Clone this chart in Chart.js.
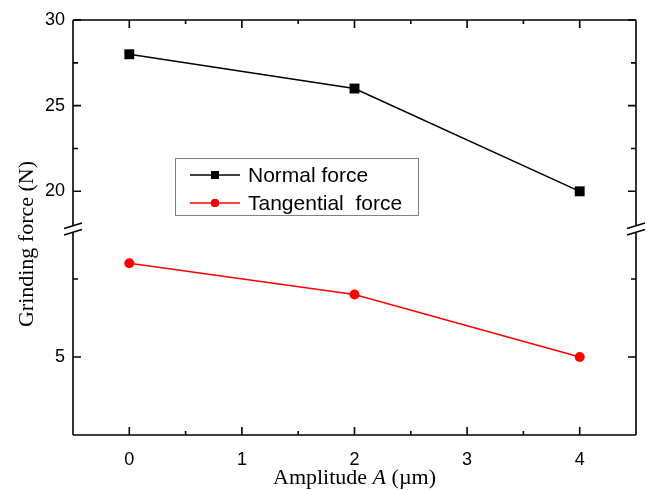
<!DOCTYPE html>
<html>
<head>
<meta charset="utf-8">
<script src="https://cdn.jsdelivr.net/npm/chart.js@4.4.1/dist/chart.umd.min.js"></script>
<style>
  html, body { margin: 0; padding: 0; background: #fff; }
</style>
</head>
<body>
<canvas id="chart" width="647" height="490"></canvas>
<script>
const amplitudes = [0, 2, 4];
const normalForce = [28, 26, 20];
const tangentialForce = [8, 7, 5];
const xTicks = [0, 1, 2, 3, 4];
const xMinorTicks = [0.5, 1.5, 2.5, 3.5];
const upperTicks = [20, 25, 30];
const upperMinorTicks = [22.5, 27.5];
const lowerTicks = [5];
const lowerMinorTicks = [7.5];
const seriesLabels = ['Normal force', 'Tangential  force'];

const SANS = '"Liberation Sans", Arial, sans-serif';
const SERIF = '"Liberation Serif", "Times New Roman", serif';

function yScale(min, max, ticks, weight) {
  return {
    type: 'linear',
    position: 'left',
    stack: 'force',
    stackWeight: weight,
    min: min,
    max: max,
    afterBuildTicks: s => { s.ticks = ticks.map(v => ({ value: v })); },
    afterFit: s => { s.width = 73; },
    grid: { display: false, drawTicks: false },
    border: { display: false },
    ticks: { color: '#000', font: { family: SANS, size: 18 }, padding: 8 }
  };
}

// frame, inward ticks and axis break marks
const framePlugin = {
  id: 'frame',
  afterDraw(chart) {
    const { ctx, chartArea: a, scales } = chart;
    const xs = scales.x, yu = scales.yUpper, yl = scales.yLower;
    const breakY = yu.bottom;
    const gap = 3.2;
    ctx.save();
    ctx.strokeStyle = '#000';
    ctx.lineWidth = 1.6;
    ctx.beginPath();
    ctx.moveTo(a.left, a.top); ctx.lineTo(a.right, a.top);
    ctx.moveTo(a.left, a.bottom); ctx.lineTo(a.right, a.bottom);
    [a.left, a.right].forEach(px => {
      ctx.moveTo(px, a.top); ctx.lineTo(px, breakY - gap);
      ctx.moveTo(px, breakY + gap); ctx.lineTo(px, a.bottom);
    });
    ctx.stroke();

    ctx.beginPath();
    [a.left, a.right].forEach(px => {
      [-gap, gap].forEach(d => {
        ctx.moveTo(px - 9, breakY + d + 2.8);
        ctx.lineTo(px + 9, breakY + d - 2.8);
      });
    });
    ctx.stroke();

    ctx.beginPath();
    const xTick = (v, len) => {
      const p = xs.getPixelForValue(v);
      ctx.moveTo(p, a.bottom); ctx.lineTo(p, a.bottom - len);
      ctx.moveTo(p, a.top); ctx.lineTo(p, a.top + len);
    };
    xTicks.forEach(v => xTick(v, 8));
    xMinorTicks.forEach(v => xTick(v, 4));
    const yTick = (s, v, len) => {
      const p = s.getPixelForValue(v);
      ctx.moveTo(a.left, p); ctx.lineTo(a.left + len, p);
      ctx.moveTo(a.right, p); ctx.lineTo(a.right - len, p);
    };
    upperTicks.forEach(v => yTick(yu, v, 8));
    upperMinorTicks.forEach(v => yTick(yu, v, 5));
    lowerTicks.forEach(v => yTick(yl, v, 8));
    lowerMinorTicks.forEach(v => yTick(yl, v, 5));
    ctx.stroke();

    // axis titles
    ctx.fillStyle = '#000';
    ctx.textBaseline = 'middle';
    const pieces = [
      { t: 'Amplitude ', f: '22px ' + SERIF },
      { t: 'A', f: 'italic 22px ' + SERIF },
      { t: ' (\u00b5m)', f: '22px ' + SERIF }
    ];
    let total = 0;
    pieces.forEach(p => { ctx.font = p.f; p.w = ctx.measureText(p.t).width; total += p.w; });
    let tx = (a.left + a.right) / 2 - total / 2;
    ctx.textAlign = 'left';
    pieces.forEach(p => { ctx.font = p.f; ctx.fillText(p.t, tx, 478); tx += p.w; });

    ctx.translate(27, 244);
    ctx.rotate(-Math.PI / 2);
    ctx.textAlign = 'center';
    ctx.font = '22px ' + SERIF;
    ctx.fillText('Grinding force (N)', 0, 0);
    ctx.restore();
  }
};

const legendPlugin = {
  id: 'boxLegend',
  afterDraw(chart) {
    const { ctx } = chart;
    ctx.save();
    ctx.strokeStyle = '#808080';
    ctx.lineWidth = 1;
    ctx.strokeRect(175.5, 158.5, 243, 57);
    const rows = [175, 203];
    chart.data.datasets.forEach((ds, i) => {
      const y = rows[i];
      ctx.strokeStyle = ds.borderColor;
      ctx.lineWidth = 1.5;
      ctx.beginPath();
      ctx.moveTo(190, y); ctx.lineTo(240, y);
      ctx.stroke();
      Chart.helpers.drawPoint(ctx, { pointStyle: ds.pointStyle, radius: ds.pointRadius * 0.8, borderWidth: 0 }, 215, y);
      ctx.fillStyle = ds.backgroundColor;
      ctx.fill();
      ctx.fillStyle = '#000';
      ctx.font = '21px ' + SANS;
      ctx.textAlign = 'left';
      ctx.textBaseline = 'middle';
      ctx.fillText(ds.label, 248, y + 1);
    });
    ctx.restore();
  }
};

new Chart(document.getElementById('chart'), {
  type: 'line',
  data: {
    datasets: [
      {
        label: seriesLabels[0],
        data: amplitudes.map((a, i) => ({ x: a, y: normalForce[i] })),
        yAxisID: 'yUpper',
        borderColor: '#000000',
        backgroundColor: '#000000',
        borderWidth: 1.5,
        pointStyle: 'rect',
        pointRadius: 7,
        pointBorderWidth: 0
      },
      {
        label: seriesLabels[1],
        data: amplitudes.map((a, i) => ({ x: a, y: tangentialForce[i] })),
        yAxisID: 'yLower',
        borderColor: '#ff0000',
        backgroundColor: '#ff0000',
        borderWidth: 1.5,
        pointStyle: 'circle',
        pointRadius: 5,
        pointBorderWidth: 0
      }
    ]
  },
  options: {
    responsive: false,
    animation: false,
    layout: { padding: { top: 20, right: 11, left: 0, bottom: 0 } },
    plugins: { legend: { display: false }, tooltip: { enabled: false } },
    scales: {
      x: {
        type: 'linear',
        min: -0.5,
        max: 4.5,
        afterBuildTicks: s => { s.ticks = xTicks.map(v => ({ value: v })); },
        afterFit: s => { s.height = 55; },
        grid: { display: false, drawTicks: false },
        border: { display: false },
        ticks: { color: '#000', font: { family: SANS, size: 18 }, padding: 14 }
      },
      // later scales in a stack are placed on top
      yLower: yScale(2.5, 9.1, lowerTicks, 206),
      yUpper: yScale(17.8, 30, upperTicks, 209)
    }
  },
  plugins: [framePlugin, legendPlugin]
});
</script>
</body>
</html>
